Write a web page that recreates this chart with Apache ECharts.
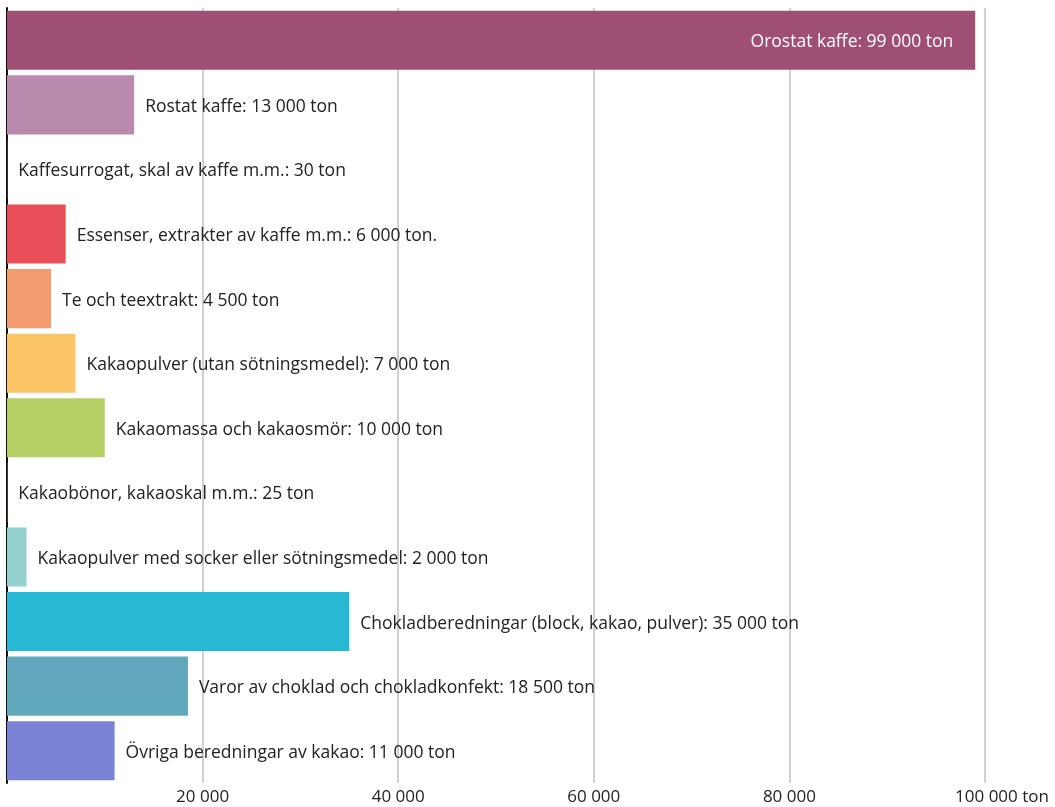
<!DOCTYPE html>
<html><head><meta charset="utf-8">
<script src="https://cdn.jsdelivr.net/npm/echarts@6/dist/echarts.min.js"></script>
<style>html,body{margin:0;padding:0;background:#fff}#c{width:1055px;height:807px}</style>
</head><body><div id="c"></div>
<script>
const categories = [
  "Orostat kaffe",
  "Rostat kaffe",
  "Kaffesurrogat, skal av kaffe m.m.",
  "Essenser, extrakter av kaffe m.m.",
  "Te och teextrakt",
  "Kakaopulver (utan sötningsmedel)",
  "Kakaomassa och kakaosmör",
  "Kakaobönor, kakaoskal m.m.",
  "Kakaopulver med socker eller sötningsmedel",
  "Chokladberedningar (block, kakao, pulver)",
  "Varor av choklad och chokladkonfekt",
  "Övriga beredningar av kakao"
];
const values = [99000, 13000, 30, 6000, 4500, 7000, 10000, 25, 2000, 35000, 18500, 11000];
const valueLabels = ["99 000 ton","13 000 ton","30 ton","6 000 ton.","4 500 ton","7 000 ton","10 000 ton","25 ton","2 000 ton","35 000 ton","18 500 ton","11 000 ton"];
const colors = ["#9e4f73","#b98aad","#c0507a","#e84e58","#f39c6f","#fbc566","#b5d166","#8fbf5a","#93d0ce","#27b8d4","#62a8bd","#7a82d6"];
const tickLabels = {20000:"20 000",40000:"40 000",60000:"60 000",80000:"80 000",100000:"100 000"};
const unit = "ton";

const font = "Open Sans";
const fs = 17.5;
const chart = echarts.init(document.getElementById('c'), null, {renderer:'canvas'});
chart.setOption({
  animation:false,
  textStyle:{fontFamily:font},
  grid:{left:7, right:70, top:8, bottom:24, containLabel:false},
  xAxis:{
    type:'value', min:0, max:100000, interval:20000,
    axisLine:{show:false}, axisTick:{show:false},
    splitLine:{show:true, lineStyle:{color:'#d0d0d0', width:2}},
    axisLabel:{
      margin:6, color:'#222', fontSize:17, fontFamily:font,
      formatter:function(v){
        if(v===0) return '';
        if(v===100000) return '{s|}{v|' + tickLabels[v] + '}{t| ' + unit + '}';
        return tickLabels[v] || '';
      },
      rich:{
        s:{width:34, fontSize:17, fontFamily:font},
        v:{fontSize:17, color:'#222', fontFamily:font},
        t:{fontSize:17, color:'#222', fontFamily:font}
      }
    }
  },
  yAxis:{
    type:'category', data:categories, inverse:true,
    axisLine:{show:true, lineStyle:{color:'#111', width:2}},
    axisTick:{show:false}, axisLabel:{show:false}, splitLine:{show:false}
  },
  series:[{
    type:'bar',
    barCategoryGap:'8.5%',
    data: values.map(function(v,i){
      const inside = i===0;
      return {
        value:v,
        itemStyle:{color:colors[i]},
        label:{
          show:true,
          position: inside ? 'insideRight' : 'right',
          distance: inside ? 22 : 11,
          offset:[0,2],
          color: inside ? '#fff' : '#222',
          fontSize:fs, fontFamily:font,
          formatter: categories[i] + ': ' + valueLabels[i]
        }
      };
    })
  }]
});
</script></body></html>
